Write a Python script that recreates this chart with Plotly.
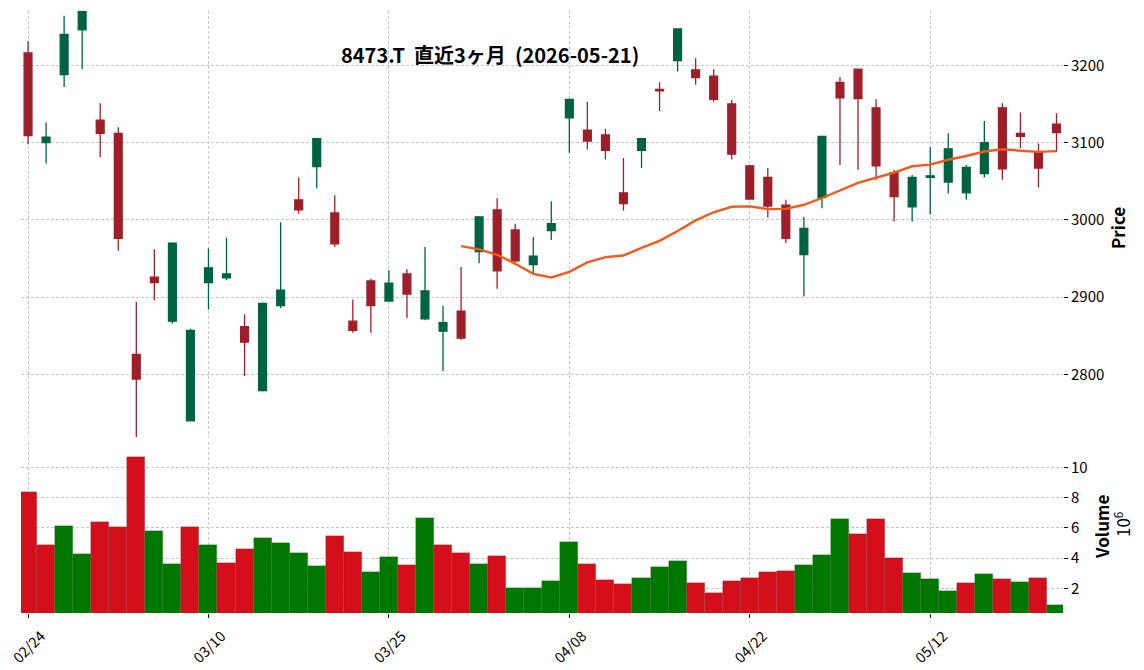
import plotly.graph_objects as go
import pandas as pd

dates = ["02/24", "02/25", "02/26", "02/27",
         "03/02", "03/03", "03/04", "03/05", "03/06", "03/09", "03/10", "03/11", "03/12", "03/13",
         "03/16", "03/17", "03/18", "03/19", "03/23", "03/24", "03/25", "03/26", "03/27", "03/30", "03/31",
         "04/01", "04/02", "04/03", "04/06", "04/07", "04/08", "04/09", "04/10", "04/13", "04/14", "04/15",
         "04/16", "04/17", "04/20", "04/21", "04/22", "04/23", "04/24", "04/27", "04/28", "04/30",
         "05/01", "05/07", "05/08", "05/11", "05/12", "05/13", "05/14", "05/15", "05/18", "05/19", "05/20", "05/21"]

opens = [3216, 3100, 3188, 3246, 3129, 3112, 2826, 2926, 2869, 2740,
         2919, 2925, 2862, 2779, 2889, 3026, 3069, 3009, 2869, 2921,
         2895, 2930, 2872, 2856, 2882, 2959, 3013, 2987, 2942, 2986,
         3132, 3116, 3110, 3035, 3090, 3169, 3206, 3194, 3186, 3150,
         3070, 3055, 3019, 2955, 3029, 3178, 3195, 3145, 3061, 3017,
         3055, 3049, 3035, 3060, 3145, 3112, 3088, 3124]
highs = [3231, 3126, 3264, 3290, 3151, 3120, 2894, 2962, 2971, 2859,
         2963, 2977, 2878, 2893, 2997, 3055, 3105, 3032, 2897, 2924,
         2935, 2936, 2965, 2889, 2939, 3004, 3028, 2995, 2978, 3024,
         3157, 3153, 3118, 3080, 3105, 3178, 3248, 3209, 3195, 3155,
         3071, 3067, 3026, 3004, 3109, 3185, 3196, 3156, 3065, 3058,
         3094, 3112, 3071, 3128, 3151, 3139, 3099, 3138]
lows = [3098, 3073, 3172, 3195, 3081, 2960, 2719, 2896, 2866, 2739,
        2884, 2922, 2798, 2778, 2886, 3008, 3041, 2965, 2854, 2854,
        2895, 2873, 2870, 2804, 2845, 2944, 2911, 2945, 2931, 2974,
        3087, 3091, 3078, 3012, 3067, 3141, 3192, 3175, 3153, 3078,
        3026, 3003, 2970, 2901, 3015, 3071, 3065, 3052, 2998, 2998,
        3007, 3034, 3026, 3055, 3052, 3093, 3042, 3088]
closes = [3109, 3107, 3240, 3278, 3112, 2976, 2794, 2919, 2970, 2857,
          2938, 2930, 2842, 2892, 2909, 3013, 3105, 2969, 2857, 2889,
          2918, 2904, 2908, 2867, 2847, 3004, 2934, 2947, 2953, 2995,
          3156, 3102, 3090, 3021, 3105, 3167, 3247, 3184, 3156, 3085,
          3027, 3018, 2976, 2989, 3108, 3158, 3157, 3070, 3030, 3055,
          3057, 3092, 3068, 3100, 3066, 3108, 3067, 3113]
volume_millions = [8.36, 4.89, 6.09, 4.29, 6.35, 6.02, 10.69, 5.82, 3.62, 6.02,
                   4.89, 3.69, 4.62, 5.35, 5.02, 4.36, 3.49, 5.49, 4.42, 3.09,
                   4.09, 3.56, 6.62, 4.89, 4.36, 3.62, 4.16, 2.02, 2.02, 2.49,
                   5.09, 3.62, 2.56, 2.29, 2.69, 3.42, 3.82, 2.36, 1.69, 2.49,
                   2.69, 3.09, 3.16, 3.56, 4.22, 6.55, 5.62, 6.55, 4.02, 3.02,
                   2.62, 1.82, 2.36, 2.96, 2.62, 2.42, 2.69, 0.89]

x_ticks = ["02/24", "03/10", "03/25", "04/08", "04/22", "05/12"]
price_ticks = [2800, 2900, 3000, 3100, 3200]
volume_ticks = [2, 4, 6, 8, 10]
title_text = "8473.T  直近3ヶ月  (2026-05-21)"

UP_C = "#006340"
DN_C = "#9e1f2a"
VUP = "#007800"
VDN = "#d40f1b"
GRID = "#c8c8c8"
FONT = "Noto Sans CJK JP"

ma25 = pd.Series(closes).rolling(25).mean()
vcolors = [VDN] + [VUP if closes[i] > closes[i - 1] else VDN for i in range(1, len(closes))]

fig = go.Figure()
fig.add_trace(go.Candlestick(
    x=dates, open=opens, high=highs, low=lows, close=closes,
    increasing=dict(fillcolor=UP_C, line=dict(color=UP_C, width=1.3)),
    decreasing=dict(fillcolor=DN_C, line=dict(color=DN_C, width=1.3)),
    whiskerwidth=0, xaxis="x", yaxis="y", showlegend=False, hoverinfo="skip"))
fig.add_trace(go.Scatter(x=dates, y=ma25, mode="lines",
                         line=dict(color="#f25a1d", width=2.4),
                         xaxis="x", yaxis="y", showlegend=False, hoverinfo="skip"))
fig.add_trace(go.Bar(x=dates, y=volume_millions,
                     marker=dict(color=vcolors, line=dict(color="rgba(0,0,0,0.15)", width=0.6)),
                     width=1.0, xaxis="x2", yaxis="y2", showlegend=False, hoverinfo="skip"))

common_x = dict(type="category", categoryorder="array", categoryarray=dates,
                range=[-0.39, 57.36], showgrid=True, gridcolor=GRID, griddash="3px,2px",
                gridwidth=0.7, tickvals=x_ticks, zeroline=False, showline=False, automargin=False)
common_y = dict(side="right", showgrid=True, gridcolor=GRID, griddash="3px,2px", gridwidth=0.7,
                ticks="outside", ticklen=4, tickwidth=1.2, tickcolor="#111", zeroline=False,
                automargin=False, tickfont=dict(size=15, family=FONT, color="#000"))

fig.update_layout(
    width=1144, height=670,
    margin=dict(l=21, r=81, t=11, b=57, autoexpand=False),
    paper_bgcolor="white", plot_bgcolor="white",
    font=dict(family=FONT, size=14, color="#000"),
    boxgap=0.38,
    bargap=0,
    xaxis=dict(**common_x, domain=[0, 1], anchor="y", showticklabels=False, ticks="",
               rangeslider=dict(visible=False), matches="x2"),
    xaxis2=dict(**common_x, domain=[0, 1], anchor="y2", ticks="outside", ticklen=4, tickwidth=1.2,
                tickcolor="#111", tickangle=-45, tickfont=dict(size=14.5, family=FONT, color="#000"),
                ticklabelshift=13, ticklabelstandoff=4),
    yaxis=dict(**common_y, domain=[0.292, 1], range=[2718.8, 3270.3], tickvals=price_ticks),
    yaxis2=dict(**common_y, domain=[0, 0.284], range=[0.37, 11.67], tickvals=volume_ticks),
    annotations=[
        dict(text="<b>" + title_text + "</b>", xref="paper", yref="paper", x=0.450, y=0.927,
             showarrow=False, font=dict(size=20, family=FONT, color="#000"), xanchor="center", yanchor="middle"),
        dict(text="<b>Price</b>", xref="paper", yref="paper", x=1.0 + (1118 - 1063) / 1042, y=(613 - 228) / 602,
             textangle=-90, showarrow=False, font=dict(size=17, family=FONT, color="#000"),
             xanchor="center", yanchor="middle"),
        dict(text="<b>Volume</b>", xref="paper", yref="paper", x=1.0 + (1101 - 1063) / 1042, y=(613 - 527) / 602,
             textangle=-90, showarrow=False, font=dict(size=17, family=FONT, color="#000"),
             xanchor="center", yanchor="middle"),
        dict(text="10<sup>6</sup>", xref="paper", yref="paper", x=1.0 + (1122 - 1063) / 1042, y=(613 - 524) / 602,
             textangle=-90, showarrow=False, font=dict(size=17, family=FONT, color="#000"),
             xanchor="center", yanchor="middle"),
    ],
)

fig.write_html("out.html")
